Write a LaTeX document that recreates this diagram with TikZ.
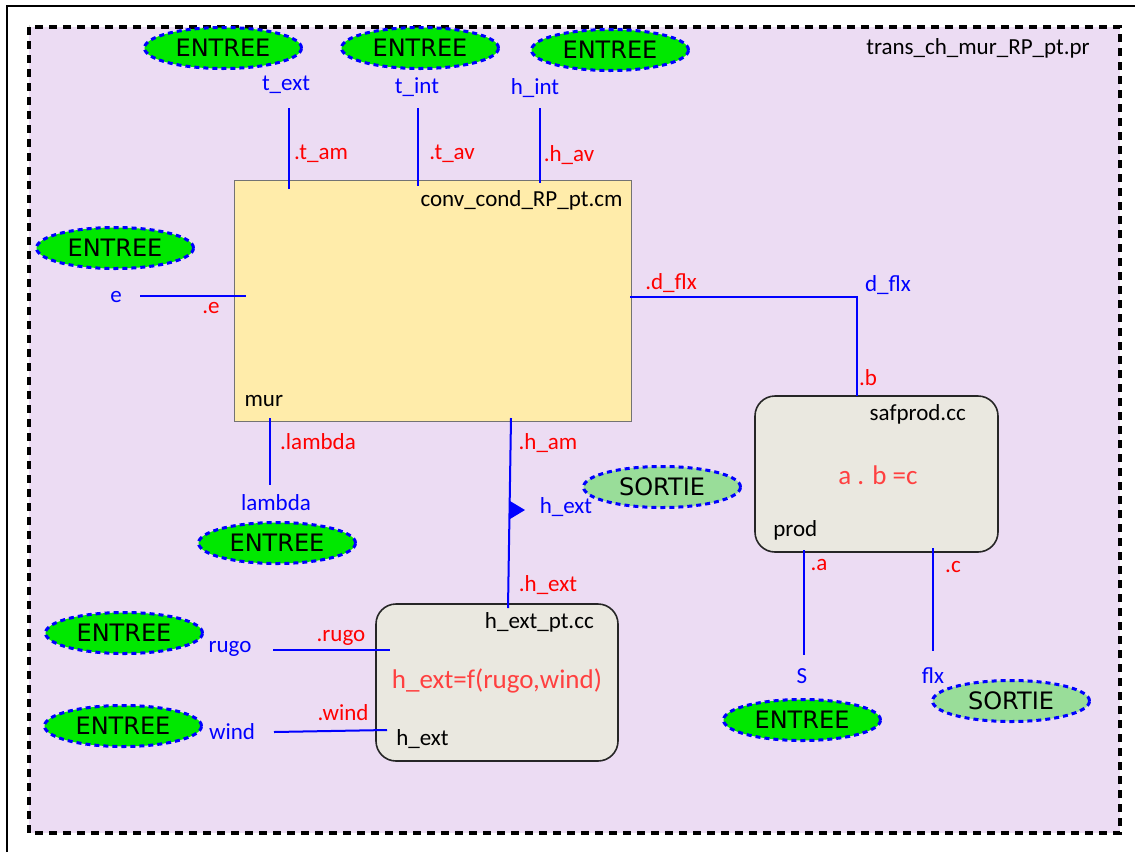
\documentclass[tikz,border=0pt]{standalone}
\usepackage{fontspec}
\setmainfont{Carlito}
\newfontfamily\ovalfont{DejaVu Sans}
\usetikzlibrary{shapes.geometric}
\definecolor{fondpr}{RGB}{236,220,243}
\definecolor{fondcm}{RGB}{255,236,170}
\definecolor{fondcc}{RGB}{234,232,224}
\definecolor{vertent}{RGB}{0,232,0}
\definecolor{vertsort}{RGB}{153,221,153}
\definecolor{rougefn}{RGB}{255,64,64}

\begin{document}
\begin{tikzpicture}[x=0.5pt, y=-0.5pt, font=\fontsize{11.5}{13}\selectfont,
  entree/.style={ellipse, draw=blue, line width=1.5pt, dash pattern=on 2.5pt off 2pt,
    fill=vertent, minimum width=78.5pt, minimum height=20.5pt, inner sep=0pt,
    font=\ovalfont\fontsize{12}{14}\selectfont},
  sortie/.style={entree, fill=vertsort},
  port/.style={text=blue},
  pin/.style={text=red},
  fonction/.style={text=rougefn, font=\fontsize{13.5}{15}\selectfont},
  wire/.style={draw=blue, line width=1pt},
  cmbox/.style={rectangle, draw=black!55, line width=0.5pt, fill=fondcm,
    minimum width=198.5pt, minimum height=120.5pt, inner sep=0pt},
  ccbox/.style={rectangle, rounded corners=10pt, draw=black!85, line width=0.8pt,
    fill=fondcc, minimum width=121.5pt, minimum height=78pt, inner sep=0pt}]
  \useasboundingbox (0,0) rectangle (1135,852);

  % cadre
  \draw[line width=1.2pt] (7,852) -- (7,6) -- (1135,6);
  \draw[line width=1.6pt, dash pattern=on 4pt off 3pt, fill=fondpr] (29,27) rectangle (1120,833);
  \node (titre) at (978,48) {trans\_ch\_mur\_RP\_pt.pr};

  % blocs
  \node[cmbox] (conv) at (432.5,300.5) {};
  \node[anchor=north east] (convnom) at ([shift={(-1pt,-2pt)}]conv.north east) {conv\_cond\_RP\_pt.cm};
  \node[anchor=south west] (convinst) at ([shift={(2pt,4pt)}]conv.south west) {mur};

  \node[ccbox] (saf) at (876.5,474) {};
  \node[anchor=north east] (safnom) at ([shift={(-13pt,-1pt)}]saf.north east) {safprod.cc};
  \node[fonction] (saffn) at (878,475) {a . b =c};
  \node[anchor=south west] (safinst) at ([shift={(6pt,3pt)}]saf.south west) {prod};

  \node[ccbox, minimum width=121pt, minimum height=78.5pt] (hext) at (497,682.5) {};
  \node[anchor=north east] (hextnom) at ([shift={(-9pt,-1pt)}]hext.north east) {h\_ext\_pt.cc};
  \node[fonction] (hextfn) at (497,681) {h\_ext=f(rugo,wind)};
  \node[anchor=south west] (hextinst) at ([shift={(7pt,3pt)}]hext.south west) {h\_ext};

  % entrees et sorties
  \node[entree] (e1) at (223,48) {ENTREE};
  \node[entree] (e2) at (420,48) {ENTREE};
  \node[entree] (e3) at (610,50) {ENTREE};
  \node[entree] (e4) at (115,248) {ENTREE};
  \node[entree] (e5) at (277,543) {ENTREE};
  \node[entree] (e6) at (124,633) {ENTREE};
  \node[entree] (e7) at (123,726) {ENTREE};
  \node[entree] (e8) at (802,720) {ENTREE};
  \node[sortie] (s1) at (662,487) {SORTIE};
  \node[sortie] (s2) at (1011,701) {SORTIE};

  % ports
  \node[port] (text) at (286,85) {t\_ext};
  \node[port] (tint) at (417,87) {t\_int};
  \node[port] (hint) at (535,88) {h\_int};
  \node[port] (pe) at (116,297) {e};
  \node[port] (plambda) at (276,503) {lambda};
  \node[port] (dflx) at (888,285) {d\_flx};
  \node[port] (phext) at (566,507) {h\_ext};
  \node[port] (rugo) at (230,649) {rugo};
  \node[port] (wind) at (232,732) {wind};
  \node[port] (pS) at (802,676) {S};
  \node[port] (flx) at (933,676) {flx};

  \node[pin] at (321,154) {.t\_am};
  \node[pin] at (452,154) {.t\_av};
  \node[pin] at (569,155) {.h\_av};
  \node[pin] at (211,308) {.e};
  \node[pin] at (318,442) {.lambda};
  \node[pin] at (671,283) {.d\_flx};
  \node[pin] at (868,378) {.b};
  \node[pin] at (548,443) {.h\_am};
  \node[pin] at (548,585) {.h\_ext};
  \node[pin] at (341,638) {.rugo};
  \node[pin] at (343,713) {.wind};
  \node[pin] at (819,565) {.a};
  \node[pin] at (953,567) {.c};

  % fils
  \coordinate (textbas) at (289,108);  \coordinate (tam) at (289,189);
  \coordinate (tintbas) at (418,108);  \coordinate (tav) at (418,186);
  \coordinate (hintbas) at (540,108);  \coordinate (hav) at (540,183);
  \coordinate (pedroit) at (140,296);  \coordinate (ee) at (246,296);
  \coordinate (lam) at (270,418);      \coordinate (lamhaut) at (270,485);
  \coordinate (df) at (630,297);       \coordinate (bb) at (857,396);
  \coordinate (ham) at (511,418);      \coordinate (hx) at (508,608);
  \coordinate (rugodroit) at (273,650); \coordinate (rg) at (390,650);
  \coordinate (winddroit) at (274,732); \coordinate (wd) at (387,730);
  \coordinate (aa) at (804,550);       \coordinate (Shaut) at (804,655);
  \coordinate (cc) at (933,548);       \coordinate (flxhaut) at (933,651);
  \coordinate (repere) at (510,510);

  \draw[wire] (textbas) -- (tam);
  \draw[wire] (tintbas) -- (tav);
  \draw[wire] (hintbas) -- (hav);
  \draw[wire] (pedroit) -- (ee);
  \draw[wire] (lam) -- (lamhaut);
  \draw[wire] (df) -| (bb);
  \draw[wire] (ham) -- (hx);
  \draw[wire] (rugodroit) -- (rg);
  \draw[wire] (winddroit) -- (wd);
  \draw[wire] (aa) -- (Shaut);
  \draw[wire] (cc) -- (flxhaut);
  \fill[blue] (repere) ++(0,-9) -- ++(15,9) -- ++(-15,9) -- cycle;
\end{tikzpicture}
\end{document}
